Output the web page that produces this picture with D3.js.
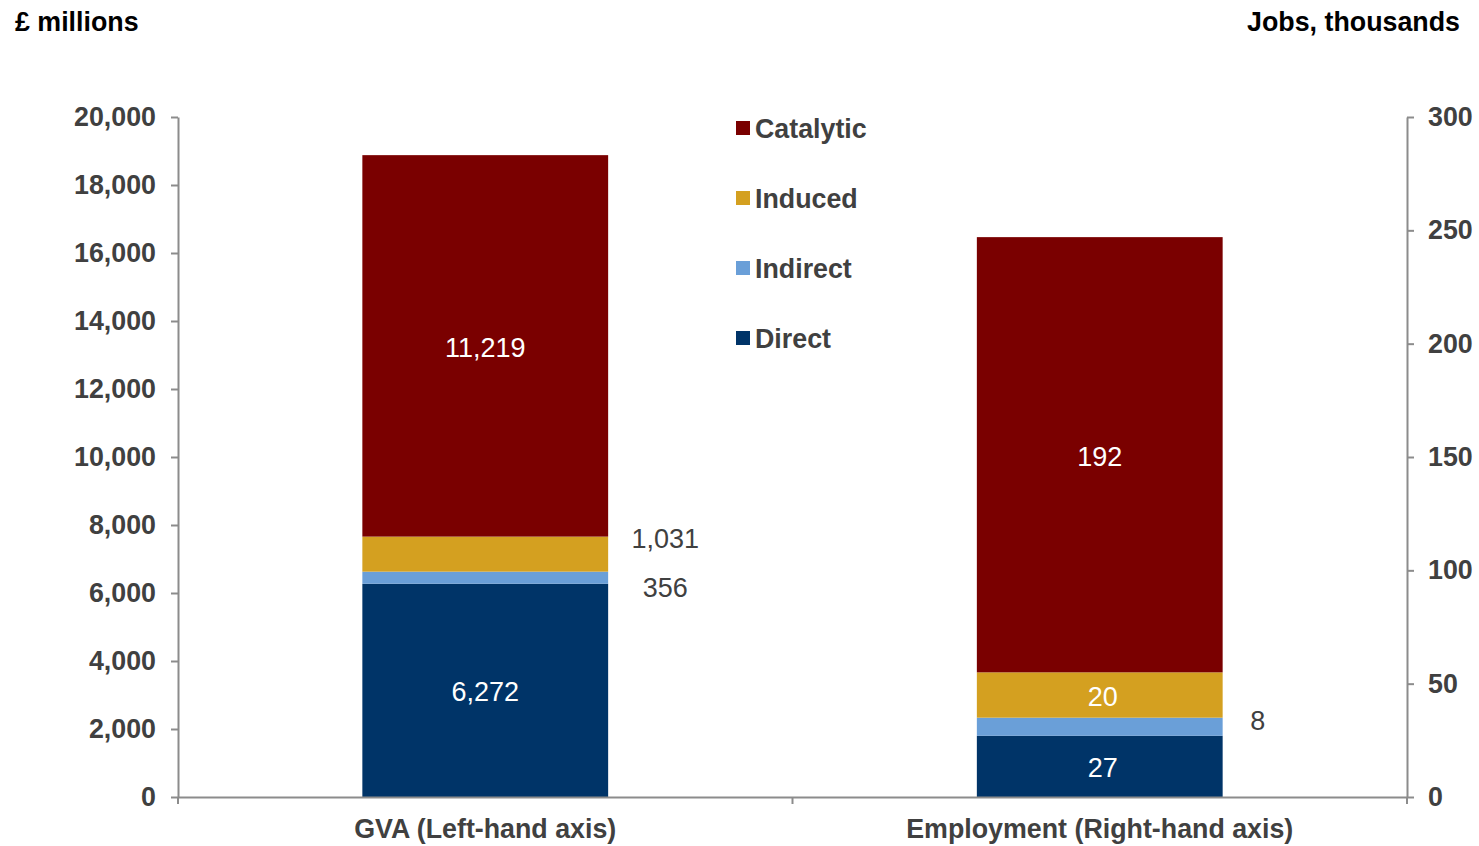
<!DOCTYPE html>
<html>
<head>
<meta charset="utf-8">
<script src="https://cdn.jsdelivr.net/npm/d3@7"></script>
<style>
  body { margin: 0; background: #fff; }
  text { font-family: "Liberation Sans", Arial, sans-serif; }
</style>
</head>
<body>
<svg id="chart" width="1479" height="846"></svg>
<script>
// data
var categories = ["GVA (Left-hand axis)", "Employment (Right-hand axis)"];
var seriesNames = ["Direct", "Indirect", "Induced", "Catalytic"];
var gvaValues = [6272, 356, 1031, 11219];        // £ millions
var jobsValues = [27, 8, 20, 192];                // jobs, thousands
var gvaTicks = [0, 2000, 4000, 6000, 8000, 10000, 12000, 14000, 16000, 18000, 20000];
var jobsTicks = [0, 50, 100, 150, 200, 250, 300];
var colors = ["#003468", "#6a9fd8", "#d4a020", "#7a0000"];

var svg = d3.select("#chart");
var plotLeft = 178, plotRight = 1407, plotTop = 117, plotBottom = 797;
var textCol = "#404040", axisCol = "#8c8c8c";
var fs = 26.8;

var x = d3.scaleBand().domain(categories).range([plotLeft, plotRight]).paddingInner(0.6).paddingOuter(0.3);
var yL = d3.scaleLinear().domain([0, 20000]).range([plotBottom, plotTop]);
var yR = d3.scaleLinear().domain([0, 300]).range([plotBottom, plotTop]);

// stacked bars
var stacks = [
  { cat: categories[0], vals: gvaValues, y: yL },
  { cat: categories[1], vals: jobsValues, y: yR }
];

stacks.forEach(function (s) {
  var cum = 0;
  s.vals.forEach(function (v, i) {
    var y0 = cum, y1 = cum + v;
    cum = y1;
    svg.append("rect")
      .attr("x", x(s.cat))
      .attr("width", x.bandwidth())
      .attr("y", s.y(y1))
      .attr("height", s.y(y0) - s.y(y1))
      .attr("fill", colors[i]);
    s["mid" + i] = (s.y(y0) + s.y(y1)) / 2;
    s["top" + i] = s.y(y1);
    s["bot" + i] = s.y(y0);
  });
});

// data labels
function label(tx, ty, str, col) {
  svg.append("text")
    .attr("x", tx).attr("y", ty + 2)
    .attr("text-anchor", "middle")
    .attr("dominant-baseline", "central")
    .attr("font-size", 27)
    .attr("fill", col)
    .text(str);
}
var fmt = d3.format(",");
var g = stacks[0], e = stacks[1];
var gc = x(g.cat) + x.bandwidth() / 2, ec = x(e.cat) + x.bandwidth() / 2;
label(gc, g.mid0, fmt(gvaValues[0]), "#fff");
label(gc + 180, g.bot1 + 2, fmt(gvaValues[1]), textCol);
label(gc + 180, g.top2, fmt(gvaValues[2]), textCol);
label(gc, g.mid3, fmt(gvaValues[3]), "#fff");
label(ec + 3, e.mid0, fmt(jobsValues[0]), "#fff");
label(ec + 158, e.mid1 - 8, fmt(jobsValues[1]), textCol);
label(ec + 3, e.mid2, fmt(jobsValues[2]), "#fff");
label(ec, e.mid3, fmt(jobsValues[3]), "#fff");

// axes
var axL = svg.append("g").attr("transform", "translate(" + plotLeft + ",0)")
  .call(d3.axisLeft(yL).tickValues(gvaTicks).tickFormat(fmt).tickSize(7).tickSizeOuter(0).tickPadding(15));
var axR = svg.append("g").attr("transform", "translate(" + plotRight + ",0)")
  .call(d3.axisRight(yR).tickValues(jobsTicks).tickSize(7).tickSizeOuter(0).tickPadding(14));
var axB = svg.append("g").attr("transform", "translate(0," + plotBottom + ")")
  .call(d3.axisBottom(x).tickSize(0).tickPadding(22));

[axL, axR].forEach(function (a) {
  a.selectAll("path, line").attr("stroke", axisCol).attr("stroke-width", 2);
  a.selectAll("text").attr("font-size", fs).attr("font-weight", "bold")
    .attr("fill", textCol).attr("font-family", "Liberation Sans, Arial, sans-serif");
});
axB.select("path").attr("stroke", axisCol).attr("stroke-width", 2);
axB.selectAll("text").attr("font-size", fs).attr("font-weight", "bold")
  .attr("fill", textCol).attr("font-family", "Liberation Sans, Arial, sans-serif");

// category separator ticks on x axis
var sepX = [plotLeft, (x(categories[0]) + x.bandwidth() + x(categories[1])) / 2, plotRight];
svg.selectAll(".sep").data(sepX).enter().append("line")
  .attr("x1", function (d) { return d; }).attr("x2", function (d) { return d; })
  .attr("y1", plotBottom).attr("y2", plotBottom + 7)
  .attr("stroke", axisCol).attr("stroke-width", 2);

// axis titles
svg.append("text").attr("x", 15).attr("y", 31)
  .attr("font-size", fs).attr("font-weight", "bold").attr("fill", "#000")
  .text("£ millions");
svg.append("text").attr("x", 1460).attr("y", 31).attr("text-anchor", "end")
  .attr("font-size", fs).attr("font-weight", "bold").attr("fill", "#000")
  .text("Jobs, thousands");

// legend (reverse order, top = Catalytic)
var legendNames = seriesNames.slice().reverse();
var legendColors = colors.slice().reverse();
var lg = svg.append("g").attr("transform", "translate(736,128)");
legendNames.forEach(function (n, i) {
  var row = lg.append("g").attr("transform", "translate(0," + i * 70 + ")");
  row.append("rect").attr("x", 0).attr("y", -7).attr("width", 14).attr("height", 14)
    .attr("fill", legendColors[i]);
  row.append("text").attr("x", 19).attr("y", 1).attr("dominant-baseline", "central")
    .attr("font-size", fs).attr("font-weight", "bold").attr("fill", textCol)
    .text(n);
});
</script>
</body>
</html>
